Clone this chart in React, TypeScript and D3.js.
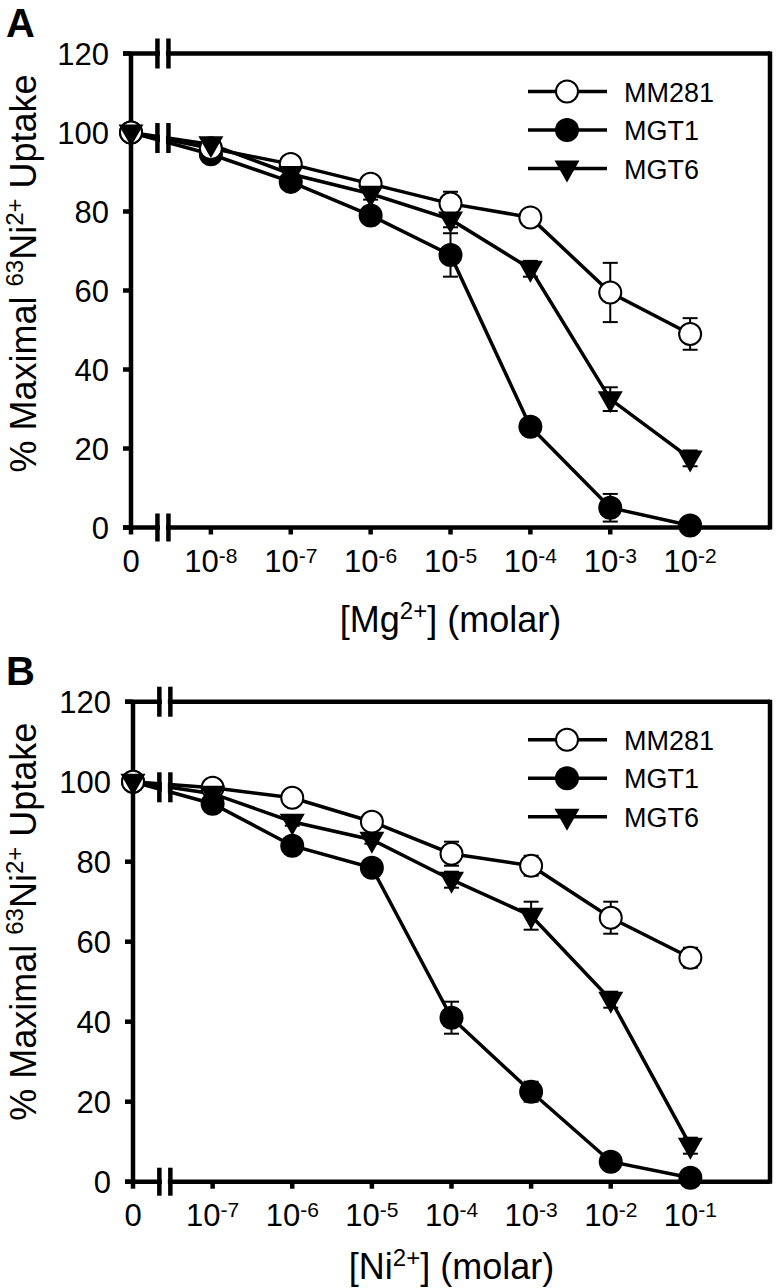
import React, { useEffect, useRef } from "react";
import * as d3 from "d3";

// x categories: null = "0", otherwise the exponent of 10
const mgExponents = [null, -8, -7, -6, -5, -4, -3, -2];
const niExponents = [null, -7, -6, -5, -4, -3, -2, -1];
const yTicks = [0, 20, 40, 60, 80, 100, 120];
const seriesNames = ["MM281", "MGT1", "MGT6"];

// panel A: Mg2+
const mm281Mg = [100, 96, 92, 87, 82, 78.5, 59.5, 49];
const mm281MgErr = [0, 1, 1.5, 1.5, 3, 1.5, 7.5, 4];
const mgt1Mg = [100, 94.5, 87.5, 79, 69, 25.5, 5, 0.5];
const mgt1MgErr = [0, 1, 1.5, 2, 5.5, 1.5, 3.5, 0.5];
const mgt6Mg = [100, 97, 89.5, 84.5, 78, 65.5, 32.5, 17.5];
const mgt6MgErr = [0, 1, 1, 1.5, 2, 2, 3, 2];

// panel B: Ni2+
const mm281Ni = [100, 98.5, 96, 90, 82, 79, 66, 56];
const mm281NiErr = [0, 1, 1, 1, 3, 2.5, 4, 2.5];
const mgt1Ni = [100, 94.5, 84, 78.5, 41, 22.5, 5, 1];
const mgt1NiErr = [0, 1, 1.5, 1, 4, 2.5, 2, 0.5];
const mgt6Ni = [100, 97, 90, 85.5, 75.5, 66.5, 45.5, 9];
const mgt6NiErr = [0, 1, 1, 1, 2, 3.5, 2, 2];

const FONT = "'Liberation Sans', Arial, Helvetica, sans-serif";

const triPath = "M-12.5,-8L12.5,-8L0,14Z";

function drawMarker(g, name, cx, cy) {
  if (name === "MGT6") {
    g.append("path")
      .attr("d", triPath)
      .attr("transform", `translate(${cx},${cy})`)
      .attr("fill", "black");
  } else if (name === "MGT1") {
    g.append("circle").attr("cx", cx).attr("cy", cy).attr("r", 12).attr("fill", "black");
  } else {
    g.append("circle")
      .attr("cx", cx)
      .attr("cy", cy)
      .attr("r", 11)
      .attr("fill", "white")
      .attr("stroke", "black")
      .attr("stroke-width", 2);
  }
}

function drawPanel(svg, opts) {
  const { top, left, letter, exps, element, series, titleGap } = opts;
  const bottom = top + opts.plotH;
  const right = 770;

  const x = d3.scaleLinear().domain([0, 8]).range([left, right]);
  const y = d3.scaleLinear().domain([0, 120]).range([bottom, top]);

  const g = svg.append("g");
  const breakX = x(0.4);

  // panel letter
  g.append("text")
    .attr("x", 6)
    .attr("y", top - 17)
    .attr("font-size", 40)
    .attr("font-weight", "bold")
    .attr("font-family", FONT)
    .text(letter);

  // frame
  const frame = g.append("g").attr("stroke", "black").attr("stroke-width", 4.5).attr("fill", "none");
  frame.append("line").attr("x1", left - 8).attr("x2", right).attr("y1", top).attr("y2", top);
  frame.append("line").attr("x1", left - 8).attr("x2", right).attr("y1", bottom).attr("y2", bottom);
  frame.append("line").attr("x1", left).attr("x2", left).attr("y1", top).attr("y2", bottom);
  frame.append("line").attr("x1", right).attr("x2", right).attr("y1", top - 2).attr("y2", bottom + 2);

  // y ticks
  yTicks.forEach(t => {
    frame.append("line").attr("x1", left - 8).attr("x2", left).attr("y1", y(t)).attr("y2", y(t));
    g.append("text")
      .attr("x", left - 22)
      .attr("y", y(t))
      .attr("dy", "0.36em")
      .attr("text-anchor", "end")
      .attr("font-size", 31)
      .attr("font-family", FONT)
      .text(t);
  });

  // x ticks
  exps.forEach((e, i) => {
    frame.append("line").attr("x1", x(i)).attr("x2", x(i)).attr("y1", bottom).attr("y2", bottom + 7);
    const t = g.append("text")
      .attr("x", x(i))
      .attr("y", bottom + 44)
      .attr("text-anchor", "middle")
      .attr("font-size", 31)
      .attr("font-family", FONT);
    if (e === null) {
      t.text("0");
    } else {
      t.append("tspan").text("10");
      t.append("tspan").attr("font-size", 21).attr("dy", -9).text(`${e}`);
    }
  });

  // x title
  const xt = g.append("text")
    .attr("x", (left + right) / 2)
    .attr("y", bottom + titleGap)
    .attr("text-anchor", "middle")
    .attr("font-size", 36)
    .attr("font-family", FONT);
  xt.append("tspan").text(`[${element}`);
  xt.append("tspan").attr("font-size", 24).attr("dy", -13).text("2+");
  xt.append("tspan").attr("dy", 13).text("] (molar)");

  // y title
  const yt = g.append("text")
    .attr("transform", `translate(36,${top + 220}) rotate(-90)`)
    .attr("text-anchor", "middle")
    .attr("font-size", 36)
    .attr("font-family", FONT);
  yt.append("tspan").text("% Maximal ");
  yt.append("tspan").attr("font-size", 24).attr("dy", -13).text("63");
  yt.append("tspan").attr("dy", 13).text("Ni");
  yt.append("tspan").attr("font-size", 24).attr("dy", -13).text("2+");
  yt.append("tspan").attr("dy", 13).text(" Uptake");

  // series lines
  const line = d3.line().x((d, i) => x(i)).y(d => y(d));
  series.forEach(s => {
    g.append("path")
      .attr("d", line(s.values))
      .attr("fill", "none")
      .attr("stroke", "black")
      .attr("stroke-width", 3.5);
  });

  // axis and data breaks
  const breaks = [
    [y(120), 15],
    [y(0), 14],
    [y(98.6), 15]
  ];
  breaks.forEach(([cy, h]) => {
    g.append("rect")
      .attr("x", breakX - 3)
      .attr("y", cy - h + 2)
      .attr("width", 6)
      .attr("height", 2 * h - 4)
      .attr("fill", "white");
    [-5.5, 5.5].forEach(dx => {
      g.append("line")
        .attr("x1", breakX + dx)
        .attr("x2", breakX + dx)
        .attr("y1", cy - h)
        .attr("y2", cy + h)
        .attr("stroke", "black")
        .attr("stroke-width", 4.5);
    });
  });

  // error bars
  series.forEach(s => {
    s.values.forEach((v, i) => {
      const e = s.err[i];
      if (!e) return;
      const eb = g.append("g").attr("stroke", "black").attr("stroke-width", 2);
      eb.append("line").attr("x1", x(i)).attr("x2", x(i)).attr("y1", y(v - e)).attr("y2", y(v + e));
      [v - e, v + e].forEach(c => {
        eb.append("line").attr("x1", x(i) - 7.5).attr("x2", x(i) + 7.5).attr("y1", y(c)).attr("y2", y(c));
      });
    });
  });

  // markers: filled circles, open circles, triangles
  ["MGT1", "MM281", "MGT6"].forEach(name => {
    const s = series.find(d => d.name === name);
    s.values.forEach((v, i) => drawMarker(g, name, x(i), y(v)));
  });

  // legend
  seriesNames.forEach((name, i) => {
    const ly = top + 38 + i * 38.5;
    g.append("line")
      .attr("x1", 528)
      .attr("x2", 607)
      .attr("y1", ly)
      .attr("y2", ly)
      .attr("stroke", "black")
      .attr("stroke-width", 3.5);
    drawMarker(g, name, 567, ly);
    g.append("text")
      .attr("x", 624)
      .attr("y", ly + 10)
      .attr("font-size", 27)
      .attr("font-family", FONT)
      .text(name);
  });
}

export default function App() {
  const ref = useRef(null);

  useEffect(() => {
    document.body.style.margin = "0";
    const svg = d3.select(ref.current);
    svg.selectAll("*").remove();

    drawPanel(svg, {
      top: 53.5,
      plotH: 474,
      left: 131,
      letter: "A",
      exps: mgExponents,
      element: "Mg",
      titleGap: 104,
      series: [
        { name: "MM281", values: mm281Mg, err: mm281MgErr },
        { name: "MGT1", values: mgt1Mg, err: mgt1MgErr },
        { name: "MGT6", values: mgt6Mg, err: mgt6MgErr }
      ]
    });

    drawPanel(svg, {
      top: 701.7,
      plotH: 480,
      left: 133,
      letter: "B",
      exps: niExponents,
      element: "Ni",
      titleGap: 97,
      series: [
        { name: "MM281", values: mm281Ni, err: mm281NiErr },
        { name: "MGT1", values: mgt1Ni, err: mgt1NiErr },
        { name: "MGT6", values: mgt6Ni, err: mgt6NiErr }
      ]
    });
  }, []);

  return (
    <svg
      ref={ref}
      width={777}
      height={1288}
      style={{ display: "block", background: "white" }}
    />
  );
}
